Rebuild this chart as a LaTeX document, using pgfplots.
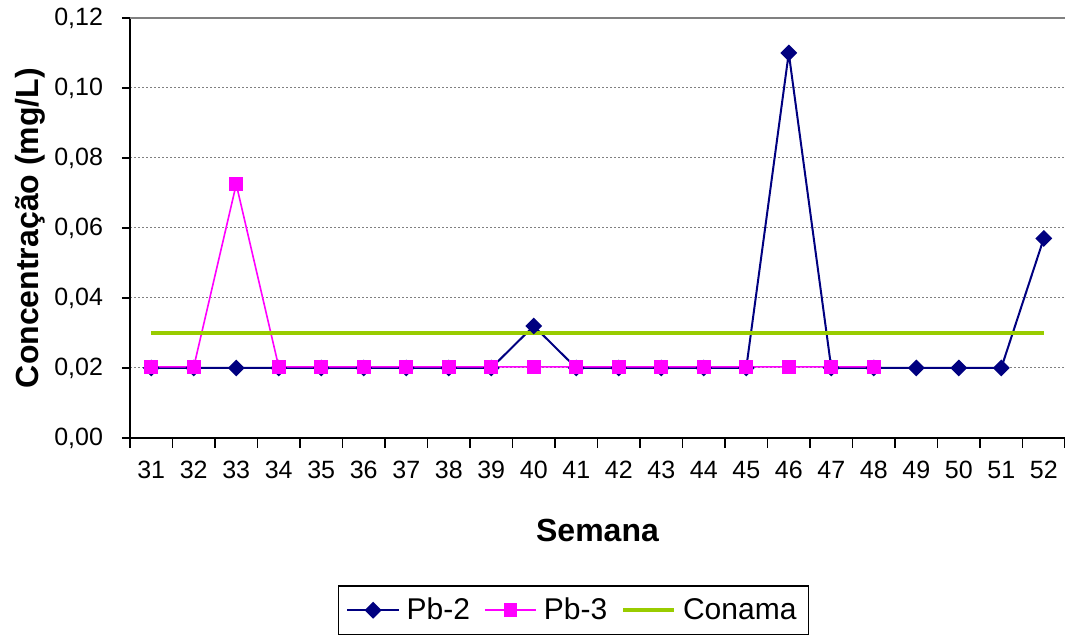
\documentclass[border=0pt]{standalone}
\usepackage{pgfplots}
\pgfplotsset{compat=1.18}
\usepackage{fontspec}
\setmainfont{Liberation Sans}
\definecolor{pbnavy}{RGB}{0,0,128}
\definecolor{pbmag}{RGB}{255,0,255}
\definecolor{conama}{RGB}{153,204,0}
\begin{document}
\begin{tikzpicture}
\begin{axis}[
  at={(0,0)}, anchor=south west,
  scale only axis, width=467.5pt, height=210pt,
  xmin=30.5, xmax=52.5, ymin=0, ymax=0.12,
  axis x line*=bottom, axis y line*=left,
  axis line style={black, line width=1pt},
  tick align=outside,
  xtick={31,...,52},
  minor xtick={30.5,31.5,...,52.5},
  ytick={0,0.02,0.04,0.06,0.08,0.10,0.12},
  major tick length=4pt, minor tick length=5pt,
  every major x tick/.append style={draw=none},
  every tick/.append style={black, line width=0.8pt},
  ymajorgrids,
  major grid style={gray, line width=0.5pt, dash pattern=on 1pt off 1pt},
  /pgf/number format/assume math mode=true,
  xticklabel style={font=\fontsize{12.5}{14}\selectfont, yshift=-4pt},
  yticklabel style={font=\fontsize{12.5}{14}\selectfont, xshift=-6pt,
    /pgf/number format/.cd, fixed, fixed zerofill, precision=2, use comma},
  legend columns=3,
  legend style={at={(0.4743,-0.41)}, anchor=center, draw=black, line width=0.8pt,
    font=\fontsize{15}{17}\selectfont, inner xsep=4pt, inner ysep=4pt,
    /tikz/every even column/.append style={column sep=5pt},
    /tikz/every odd column/.append style={column sep=1.5pt}},
  legend image code/.code={\draw[mark repeat=2,mark phase=2] plot coordinates {(0cm,0cm) (0.45cm,0cm) (0.9cm,0cm)};},
]
\addplot[pbnavy, line width=1pt, mark=square*, mark size=2.5pt, mark options={rotate=45, solid, fill=pbnavy, draw=pbnavy}]
coordinates {(31,0.02)(32,0.02)(33,0.02)(34,0.02)(35,0.02)(36,0.02)(37,0.02)(38,0.02)(39,0.02)(40,0.032)(41,0.02)(42,0.02)(43,0.02)(44,0.02)(45,0.02)(46,0.11)(47,0.02)(48,0.02)(49,0.02)(50,0.02)(51,0.02)(52,0.057)};
\addlegendentry{Pb-2}
\addplot[pbmag, line width=0.8pt, mark=square*, mark size=3pt, mark options={solid, fill=pbmag, draw=pbmag}]
coordinates {(31,0.0203)(32,0.0203)(33,0.0725)(34,0.0203)(35,0.0203)(36,0.0203)(37,0.0203)(38,0.0203)(39,0.0203)(40,0.0203)(41,0.0203)(42,0.0203)(43,0.0203)(44,0.0203)(45,0.0203)(46,0.0203)(47,0.0203)(48,0.0203)};
\addlegendentry{Pb-3}
\addplot[conama, line width=1.8pt, no marks]
coordinates {(31,0.03)(52,0.03)};
\addlegendentry{Conama}
\draw[gray, line width=1pt] (rel axis cs:0,1) -- (rel axis cs:1,1);
\draw[lightgray, line width=0.5pt] (rel axis cs:1,1) -- (rel axis cs:1,0);
\end{axis}
\node[font=\bfseries\fontsize{16}{19}\selectfont] at (233.75pt,-46pt) {Semana};
\node[rotate=90, font=\bfseries\fontsize{16}{19}\selectfont] at (-50pt,105pt) {Concentração (mg/L)};
\pgfresetboundingbox
\path[use as bounding box] (-65pt,-98.5pt) rectangle (467.5pt,219pt);
\end{tikzpicture}
\end{document}
